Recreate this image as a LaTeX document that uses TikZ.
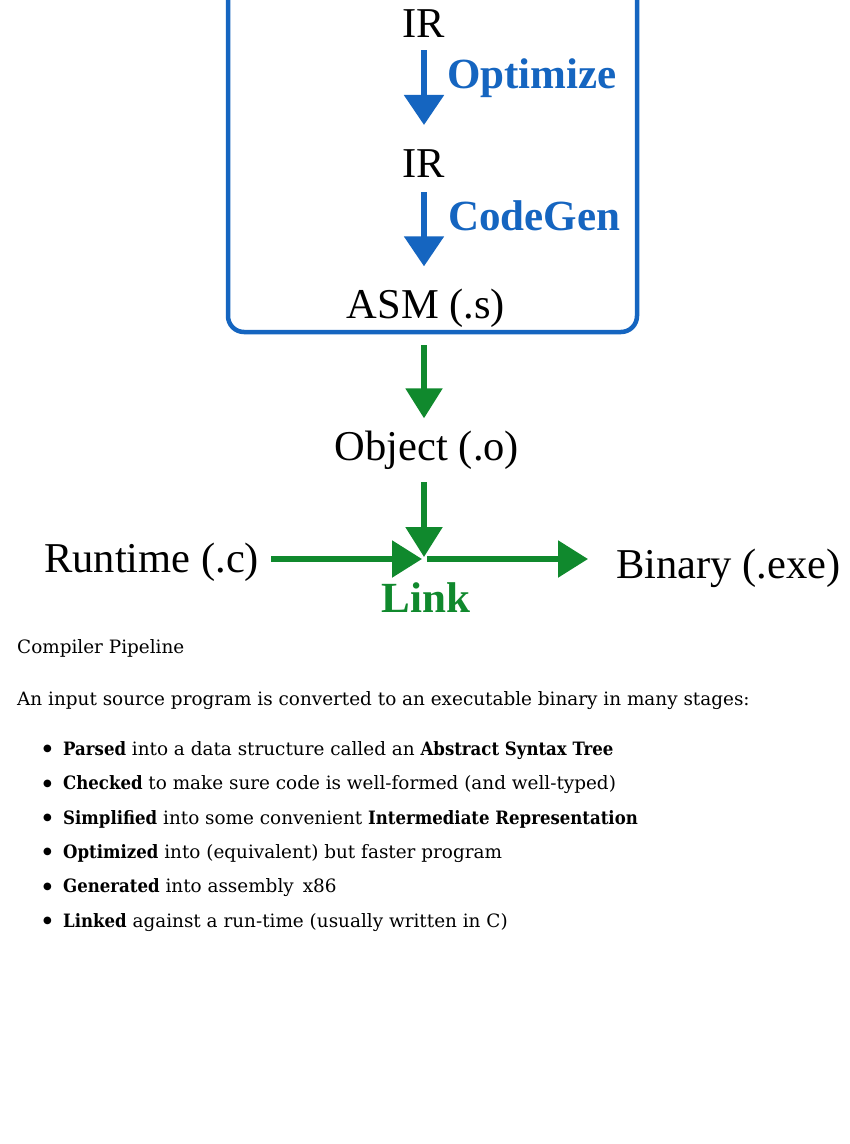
\documentclass[tikz,border=0pt]{standalone}
\usepackage{fontspec}
\setmainfont{Liberation Serif}
\newfontfamily\bodyfont[BoldFeatures={FakeStretch=0.9}]{DejaVu Serif}
\newfontfamily\symfont{DejaVu Sans}
\usetikzlibrary{arrows.meta}
\definecolor{stageblue}{RGB}{21,101,192}
\definecolor{stagegreen}{RGB}{16,137,45}
\newcommand\bulletmark{\makebox[21pt][l]{\hspace{1pt}\raisebox{3.5pt}{\symfont\fontsize{10}{10}\selectfont ●}}}
\begin{document}
\begin{tikzpicture}[x=1pt,y=-1pt,
  stage/.style={font=\fontsize{42.5}{42.5}\selectfont, inner sep=0pt, anchor=base},
  passlabel/.style={font=\fontsize{43}{43}\selectfont\bfseries, inner sep=0pt, anchor=base west},
  bluearrow/.style={draw=stageblue, line width=5.5pt, -{Triangle[width=39pt,length=30pt]}, stageblue},
  greenarrow/.style={draw=stagegreen, line width=5.5pt, -{Triangle[width=36pt,length=30pt]}, stagegreen},
  body/.style={font=\bodyfont\fontsize{18.4}{18.4}\selectfont, inner sep=0pt, anchor=base west},
]
\useasboundingbox (0,0) rectangle (850,1144);
\fill[white] (0,0) rectangle (850,1144);

% front-end box (top runs off the page)
\node[draw=stageblue, line width=4.5pt, rounded corners=16pt, minimum width=409pt,
      minimum height=362pt, inner sep=0pt] (frontend) at (432.5,151) {};

\node[stage] (ir1) at (424,37) {IR};
\node[stage] (ir2) at (424,177) {IR};
\node[stage] (asm) at (426,318) {ASM (.s)};
\node[stage] (obj) at (427,460) {Object (.o)};
\node[stage, anchor=base west] (runtime) at (44,572) {Runtime (.c)};
\node[stage, anchor=base west] (binary) at (616,578) {Binary (.exe)};
\coordinate (link) at (424,559);

\node[passlabel, text=stageblue] (opt) at (447,88) {Optimize};
\node[passlabel, text=stageblue] (cg) at (448,230) {CodeGen};
\node[passlabel, text=stagegreen, anchor=base] (linklabel) at (426,612) {Link};

\draw[bluearrow, shorten <=13pt, shorten >=24pt] (ir1.south) -- (ir1.south |- ir2.north);
\draw[bluearrow, shorten <=15pt, shorten >=22pt] (ir2.south) -- (ir2.south |- asm.north);

\draw[greenarrow, shorten <=11pt, shorten >=12pt] (link |- frontend.south) -- (link |- obj.north);
\draw[greenarrow, shorten <=13pt, shorten >=2pt] (link |- obj.south) -- (link);
\draw[greenarrow, shorten <=12pt, shorten >=2pt] (runtime.east |- link) -- (link);
\draw[greenarrow, shorten <=3pt, shorten >=28pt] (link) -- (binary.west |- link);

% description
\node[body] (title) at (17,653) {Compiler Pipeline};
\node[body] (intro) at (17,705) {An input source program is converted to an executable binary in many stages:};
\node[body] (i1) at (42,755) {\bulletmark\textbf{Parsed} into a data structure called an \textbf{Abstract Syntax Tree}};
\node[body] (i2) at (42,789.5) {\bulletmark\textbf{Checked} to make sure code is well-formed (and well-typed)};
\node[body] (i3) at (42,824) {\bulletmark\textbf{Simplified} into some convenient \textbf{Intermediate Representation}};
\node[body] (i4) at (42,858) {\bulletmark\textbf{Optimized} into (equivalent) but faster program};
\node[body] (i5) at (42,892.5) {\bulletmark\textbf{Generated} into assembly\hspace{9pt}x86};
\node[body] (i6) at (42,927) {\bulletmark\textbf{Linked} against a run-time (usually written in C)};
\end{tikzpicture}
\end{document}
